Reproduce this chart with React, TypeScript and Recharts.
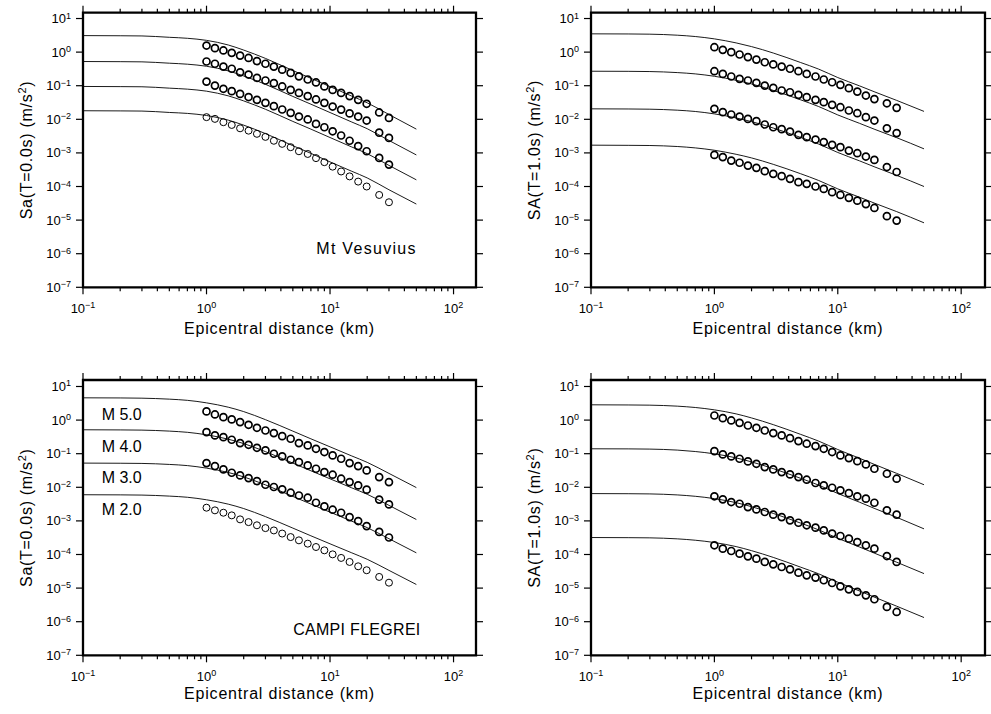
import React from "react"
import { ComposedChart, Line, Scatter, XAxis, YAxis, ReferenceArea, ReferenceDot } from "recharts"

// distances (km) of the observed points and of the model curves
const DIST_OBS = [1.0, 1.17, 1.37, 1.6, 1.87, 2.19, 2.56, 3.0, 3.51, 4.1, 4.8, 5.6, 6.6, 7.7, 9.0, 10.5, 12.3, 14.4, 16.9, 19.8, 25, 30]
const DIST_MODEL = [0.1, 0.2, 0.3, 0.5, 0.7, 1, 1.5, 2, 3, 5, 7, 10, 15, 20, 30, 50]

const X_TICKS = [0.1, 0.2, 0.3, 0.4, 0.5, 0.6, 0.7, 0.8, 0.9, 1, 2, 3, 4, 5, 6, 7, 8, 9, 10, 20, 30, 40, 50, 60, 70, 80, 90, 100]
const Y_TICKS = [1e-7, 1e-6, 1e-5, 1e-4, 1e-3, 1e-2, 1e-1, 1, 10]

// rows: M 5.0, M 4.0, M 3.0, M 2.0
const vesT0Obs = [
  [1.57, 1.31, 1.12, 0.95, 0.79, 0.67, 0.54, 0.45, 0.37, 0.3, 0.24, 0.19, 0.153, 0.125, 0.095, 0.075, 0.061, 0.049, 0.038, 0.029, 0.016, 0.011],
  [0.525, 0.45, 0.37, 0.32, 0.25, 0.215, 0.171, 0.143, 0.119, 0.095, 0.075, 0.061, 0.049, 0.039, 0.031, 0.024, 0.0195, 0.015, 0.0121, 0.0092, 0.004, 0.0028],
  [0.133, 0.101, 0.081, 0.069, 0.057, 0.046, 0.038, 0.031, 0.0246, 0.0196, 0.0156, 0.0121, 0.0099, 0.0073, 0.0058, 0.0044, 0.0033, 0.0023, 0.0016, 0.00112, 0.00071, 0.00045],
  [0.0116, 0.0103, 0.0082, 0.0068, 0.0054, 0.0046, 0.0037, 0.003, 0.0023, 0.00186, 0.00148, 0.00112, 0.00093, 0.0007, 0.00053, 0.00039, 0.00028, 0.0002, 0.00014, 0.0001, 5.6e-5, 3.4e-5],
]
const vesT0Model = [
  [3.1, 3.07, 3.03, 2.76, 2.58, 2.24, 1.63, 1.15, 0.65, 0.283, 0.166, 0.094, 0.049, 0.031, 0.0139, 0.0051],
  [0.525, 0.52, 0.513, 0.468, 0.437, 0.38, 0.276, 0.195, 0.11, 0.048, 0.0282, 0.0159, 0.0083, 0.00525, 0.00235, 0.00087],
  [0.095, 0.094, 0.093, 0.0846, 0.079, 0.0688, 0.0499, 0.0353, 0.0199, 0.00866, 0.0051, 0.00287, 0.0015, 0.00095, 0.000425, 0.000158],
  [0.018, 0.0178, 0.0176, 0.016, 0.015, 0.013, 0.00945, 0.0067, 0.00376, 0.00164, 0.00097, 0.00054, 0.000284, 0.00018, 8.0e-5, 3.0e-5],
]

const vesT1Obs = [
  [1.4, 1.17, 0.995, 0.85, 0.71, 0.6, 0.5, 0.43, 0.37, 0.32, 0.27, 0.225, 0.188, 0.153, 0.127, 0.106, 0.0845, 0.067, 0.051, 0.04, 0.03, 0.022],
  [0.27, 0.225, 0.188, 0.16, 0.143, 0.122, 0.101, 0.0865, 0.072, 0.064, 0.0535, 0.0456, 0.038, 0.0324, 0.0269, 0.0229, 0.0183, 0.0152, 0.0116, 0.0092, 0.0054, 0.0039],
  [0.0205, 0.0163, 0.0139, 0.0121, 0.0103, 0.0088, 0.007, 0.0058, 0.0051, 0.0043, 0.00345, 0.00294, 0.0025, 0.0021, 0.00174, 0.00148, 0.00117, 0.00098, 0.00078, 0.00062, 0.00038, 0.00027],
  [0.00087, 0.00075, 0.00059, 0.00051, 0.00042, 0.00036, 0.000286, 0.000238, 0.000203, 0.000169, 0.000135, 0.00012, 0.0001, 8.5e-5, 6.8e-5, 5.6e-5, 4.6e-5, 3.8e-5, 3.0e-5, 2.3e-5, 1.31e-5, 9.7e-6],
]
const vesT1Model = [
  [3.5, 3.47, 3.42, 3.19, 2.91, 2.48, 1.88, 1.46, 0.94, 0.49, 0.312, 0.175, 0.099, 0.065, 0.0366, 0.0172],
  [0.27, 0.268, 0.264, 0.246, 0.225, 0.191, 0.145, 0.113, 0.0726, 0.038, 0.024, 0.0135, 0.0076, 0.005, 0.00284, 0.00132],
  [0.0205, 0.0203, 0.02, 0.0187, 0.0171, 0.0145, 0.011, 0.00855, 0.0055, 0.00289, 0.00183, 0.00103, 0.00058, 0.00038, 0.000215, 0.0001],
  [0.0017, 0.00168, 0.00166, 0.00155, 0.00141, 0.0012, 0.00091, 0.00071, 0.000457, 0.00024, 0.000151, 8.5e-5, 4.8e-5, 3.16e-5, 1.79e-5, 8.3e-6],
]

const cfT0Obs = [
  [1.81, 1.47, 1.22, 1.045, 0.87, 0.725, 0.59, 0.49, 0.41, 0.333, 0.278, 0.207, 0.176, 0.14, 0.112, 0.089, 0.0706, 0.0525, 0.0428, 0.0318, 0.0201, 0.0143],
  [0.44, 0.35, 0.31, 0.26, 0.207, 0.184, 0.15, 0.125, 0.0995, 0.083, 0.066, 0.056, 0.0448, 0.0356, 0.0284, 0.0237, 0.018, 0.0143, 0.0114, 0.0085, 0.0043, 0.0031],
  [0.0525, 0.0428, 0.034, 0.0271, 0.0226, 0.0188, 0.0153, 0.0119, 0.0102, 0.0087, 0.0069, 0.0057, 0.0049, 0.00347, 0.0027, 0.00215, 0.00175, 0.0013, 0.00099, 0.0007, 0.00047, 0.00032],
  [0.00247, 0.00206, 0.00175, 0.00146, 0.00111, 0.00092, 0.00074, 0.00061, 0.00052, 0.00042, 0.00033, 0.000264, 0.00021, 0.000167, 0.000133, 0.000101, 7.9e-5, 6.0e-5, 4.45e-5, 3.4e-5, 2.15e-5, 1.45e-5],
]
const cfT0Model = [
  [4.6, 4.56, 4.49, 4.2, 3.87, 3.26, 2.42, 1.79, 1.03, 0.469, 0.277, 0.16, 0.0856, 0.0552, 0.0259, 0.0098],
  [0.515, 0.51, 0.503, 0.47, 0.433, 0.365, 0.27, 0.2, 0.115, 0.0525, 0.031, 0.0179, 0.0096, 0.0062, 0.0029, 0.0011],
  [0.0525, 0.052, 0.0513, 0.0479, 0.0442, 0.0372, 0.0276, 0.0204, 0.0118, 0.00536, 0.00317, 0.00182, 0.00098, 0.00063, 0.000295, 0.000112],
  [0.006, 0.00595, 0.00586, 0.00547, 0.00505, 0.00425, 0.00315, 0.00233, 0.00134, 0.00061, 0.00036, 0.000208, 0.000112, 7.2e-5, 3.37e-5, 1.28e-5],
]

const cfT1Obs = [
  [1.37, 1.14, 0.975, 0.83, 0.69, 0.59, 0.49, 0.41, 0.35, 0.29, 0.237, 0.198, 0.168, 0.14, 0.112, 0.089, 0.074, 0.06, 0.048, 0.0356, 0.0253, 0.018],
  [0.119, 0.095, 0.083, 0.0706, 0.0589, 0.0501, 0.04, 0.034, 0.0284, 0.0242, 0.0201, 0.0168, 0.0134, 0.0114, 0.0097, 0.0081, 0.0067, 0.0054, 0.0046, 0.00347, 0.00206, 0.00153],
  [0.0054, 0.00437, 0.00364, 0.00324, 0.00258, 0.0022, 0.00184, 0.00153, 0.0013, 0.00104, 0.00088, 0.00074, 0.00063, 0.00052, 0.00042, 0.000355, 0.000296, 0.000235, 0.000188, 0.000149, 9.0e-5, 6.0e-5],
  [0.000188, 0.000149, 0.000127, 0.000106, 8.8e-5, 7.5e-5, 6.0e-5, 5.1e-5, 4.25e-5, 3.62e-5, 2.88e-5, 2.4e-5, 2.05e-5, 1.71e-5, 1.42e-5, 1.13e-5, 9.2e-6, 7.7e-6, 6.1e-6, 4.65e-6, 2.75e-6, 1.95e-6],
]
const cfT1Model = [
  [2.85, 2.82, 2.78, 2.6, 2.37, 2.02, 1.53, 1.16, 0.732, 0.376, 0.237, 0.133, 0.0732, 0.0473, 0.026, 0.0119],
  [0.14, 0.139, 0.137, 0.128, 0.116, 0.099, 0.075, 0.057, 0.036, 0.0185, 0.0116, 0.00655, 0.0036, 0.00232, 0.00128, 0.00058],
  [0.0065, 0.00644, 0.00635, 0.00593, 0.0054, 0.0046, 0.00349, 0.00265, 0.00167, 0.00086, 0.00054, 0.000304, 0.000167, 0.000108, 5.9e-5, 2.7e-5],
  [0.00032, 0.000317, 0.000313, 0.000292, 0.000266, 0.000227, 0.000172, 0.00013, 8.2e-5, 4.2e-5, 2.66e-5, 1.5e-5, 8.2e-6, 5.3e-6, 2.9e-6, 1.33e-6],
]

const FONT = '"Liberation Sans", Arial, Helvetica, sans-serif'
const MAJOR = 7
const MINOR = 4

const isMajor = (v: number) => {
  const l = Math.log10(v)
  return Math.abs(l - Math.round(l)) < 1e-6
}
const expOf = (v: number) => {
  const e = Math.round(Math.log10(v))
  return e < 0 ? `\u2212${-e}` : `${e}`
}

const toPts = (xs: number[], ys: number[]) => xs.map((x, i) => ({ x, y: ys[i] }))

function BottomTick({ x, y, payload }: any) {
  const major = isMajor(payload.value)
  return (
    <g>
      <line x1={x} x2={x} y1={y} y2={y + (major ? MAJOR : MINOR)} stroke="#000" strokeWidth={1.2} />
      {major && (
        <text x={x} y={y + 25.5} textAnchor="middle" fontSize={13} fontFamily={FONT} fill="#000">
          10<tspan dy={-4.5} fontSize={9}>{expOf(payload.value)}</tspan>
        </text>
      )}
    </g>
  )
}

function TopTick({ x, y, payload }: any) {
  const major = isMajor(payload.value)
  return <line x1={x} x2={x} y1={y} y2={y - (major ? MAJOR : MINOR)} stroke="#000" strokeWidth={1.2} />
}

function LeftTick({ x, y, payload }: any) {
  return (
    <g>
      <line x1={x - MAJOR} x2={x} y1={y} y2={y} stroke="#000" strokeWidth={1.2} />
      <text x={x - 12} y={y + 4.5} textAnchor="end" fontSize={13} fontFamily={FONT} fill="#000">
        10<tspan dy={-4.5} fontSize={9}>{expOf(payload.value)}</tspan>
      </text>
    </g>
  )
}

function RightTick({ x, y }: any) {
  return <line x1={x} x2={x + MAJOR} y1={y} y2={y} stroke="#000" strokeWidth={1.2} />
}

type Note = { x: number; y: number; text: string; anchor: "start" | "middle"; spacing: number }

interface PanelProps {
  left: number
  top: number
  width: number
  height: number
  plot: { l: number; t: number; r: number; b: number }
  xMax: number
  yMax: number
  obs: number[][]
  model: number[][]
  thin: boolean[]
  yName: string
  titleGap: number
  notes: Note[]
}

function Panel({ left, top, width, height, plot, xMax, yMax, obs, model, thin, yName, titleGap, notes }: PanelProps) {
  const margin = { left: plot.l - 60, top: plot.t - 1, right: width - plot.r - 1, bottom: height - plot.b - 30 }

  const xTitle = (p: any) => {
    const vb = p.viewBox
    return (
      <text x={vb.x + vb.width / 2} y={vb.y + titleGap} textAnchor="middle" fontSize={16} letterSpacing={0.8} fontFamily={FONT} fill="#000">
        Epicentral distance (km)
      </text>
    )
  }
  const yTitle = (p: any) => {
    const vb = p.viewBox
    const tx = vb.x + vb.width - 51
    const ty = vb.y + vb.height / 2
    return (
      <text x={tx} y={ty} transform={`rotate(-90, ${tx}, ${ty})`} textAnchor="middle" fontSize={16} letterSpacing={0.7} fontFamily={FONT} fill="#000">
        {yName} (m/s<tspan dy={-6} fontSize={11}>2</tspan><tspan dy={6}>)</tspan>
      </text>
    )
  }

  return (
    <div style={{ position: "absolute", left, top, width, height }}>
      <ComposedChart width={width} height={height} margin={margin}>
        <XAxis dataKey="x" type="number" scale="log" domain={[0.1, xMax]} allowDataOverflow ticks={X_TICKS} interval={0}
          tickSize={0} tickMargin={0} tickLine={false} axisLine={false} height={30} tick={<BottomTick />} label={xTitle} />
        <XAxis xAxisId="top" orientation="top" dataKey="x" type="number" scale="log" domain={[0.1, xMax]} allowDataOverflow
          ticks={X_TICKS} interval={0} tickSize={0} tickMargin={0} tickLine={false} axisLine={false} height={1} tick={<TopTick />} />
        <YAxis dataKey="y" type="number" scale="log" domain={[1e-7, yMax]} allowDataOverflow ticks={Y_TICKS} interval={0}
          tickSize={0} tickMargin={0} tickLine={false} axisLine={false} width={60} tick={<LeftTick />} label={yTitle} />
        <YAxis yAxisId="right" orientation="right" dataKey="y" type="number" scale="log" domain={[1e-7, yMax]} allowDataOverflow
          ticks={Y_TICKS} interval={0} tickSize={0} tickMargin={0} tickLine={false} axisLine={false} width={1} tick={<RightTick />} />

        {model.map((row, k) => (
          <Line key={`m${k}`} data={toPts(DIST_MODEL, row)} dataKey="y" type="monotone" stroke="#000" strokeWidth={0.9}
            dot={false} activeDot={false} isAnimationActive={false} />
        ))}
        {obs.map((row, k) => (
          <Scatter key={`o${k}`} data={toPts(DIST_OBS, row)} dataKey="y" isAnimationActive={false}
            shape={(p: any) => <circle cx={p.cx} cy={p.cy} r={3.5} fill="none" stroke="#000" strokeWidth={thin[k] ? 1 : 1.7} />} />
        ))}

        <ReferenceArea x1={0.1} x2={xMax} y1={1e-7} y2={yMax} fill="none" stroke="#000" strokeWidth={2.3} ifOverflow="visible" />

        {notes.map((n) => (
          <ReferenceDot key={n.text} x={n.x} y={n.y} r={1} fill="none" stroke="none"
            label={(p: any) => (
              <text x={p.viewBox.x + p.viewBox.width / 2} y={p.viewBox.y + p.viewBox.height / 2 + 5.7} textAnchor={n.anchor}
                fontSize={16} letterSpacing={n.spacing} fontFamily={FONT} fill="#000">
                {n.text}
              </text>
            )} />
        ))}
      </ComposedChart>
    </div>
  )
}

const VES_NOTES: Note[] = [{ x: 19.75, y: 1.46e-6, text: "Mt Vesuvius", anchor: "middle", spacing: 1.3 }]
const CF_NOTES: Note[] = [
  { x: 0.1417, y: 1.53, text: "M 5.0", anchor: "start", spacing: 0 },
  { x: 0.1417, y: 0.171, text: "M 4.0", anchor: "start", spacing: 0 },
  { x: 0.1417, y: 0.0204, text: "M 3.0", anchor: "start", spacing: 0 },
  { x: 0.1417, y: 0.00223, text: "M 2.0", anchor: "start", spacing: 0 },
  { x: 16.5, y: 6.0e-7, text: "CAMPI FLEGREI", anchor: "middle", spacing: 0.3 },
]

export default function App() {
  const topPlotL = { l: 83, t: 12.7, r: 476, b: 287.3 }
  const topPlotR = { l: 96, t: 12.7, r: 490, b: 287.3 }
  const botPlotL = { l: 83, t: 23, r: 476, b: 298.3 }
  const botPlotR = { l: 96, t: 23, r: 490, b: 298.3 }
  return (
    <div style={{ position: "absolute", left: 0, top: 0, width: 991, height: 714, background: "#fff", overflow: "hidden", fontFamily: FONT }}>
      <Panel left={0} top={0} width={495} height={357} plot={topPlotL} xMax={152} yMax={14.9}
        obs={vesT0Obs} model={vesT0Model} thin={[false, false, false, true]} yName="Sa(T=0.0s)" titleGap={47} notes={VES_NOTES} />
      <Panel left={495} top={0} width={496} height={357} plot={topPlotR} xMax={156} yMax={14.9}
        obs={vesT1Obs} model={vesT1Model} thin={[false, false, false, false]} yName="SA(T=1.0s)" titleGap={47} notes={[]} />
      <Panel left={0} top={357} width={495} height={357} plot={botPlotL} xMax={152} yMax={15.6}
        obs={cfT0Obs} model={cfT0Model} thin={[false, false, false, true]} yName="Sa(T=0.0s)" titleGap={44} notes={CF_NOTES} />
      <Panel left={495} top={357} width={496} height={357} plot={botPlotR} xMax={156} yMax={15.6}
        obs={cfT1Obs} model={cfT1Model} thin={[false, false, false, false]} yName="SA(T=1.0s)" titleGap={44} notes={[]} />
    </div>
  )
}
